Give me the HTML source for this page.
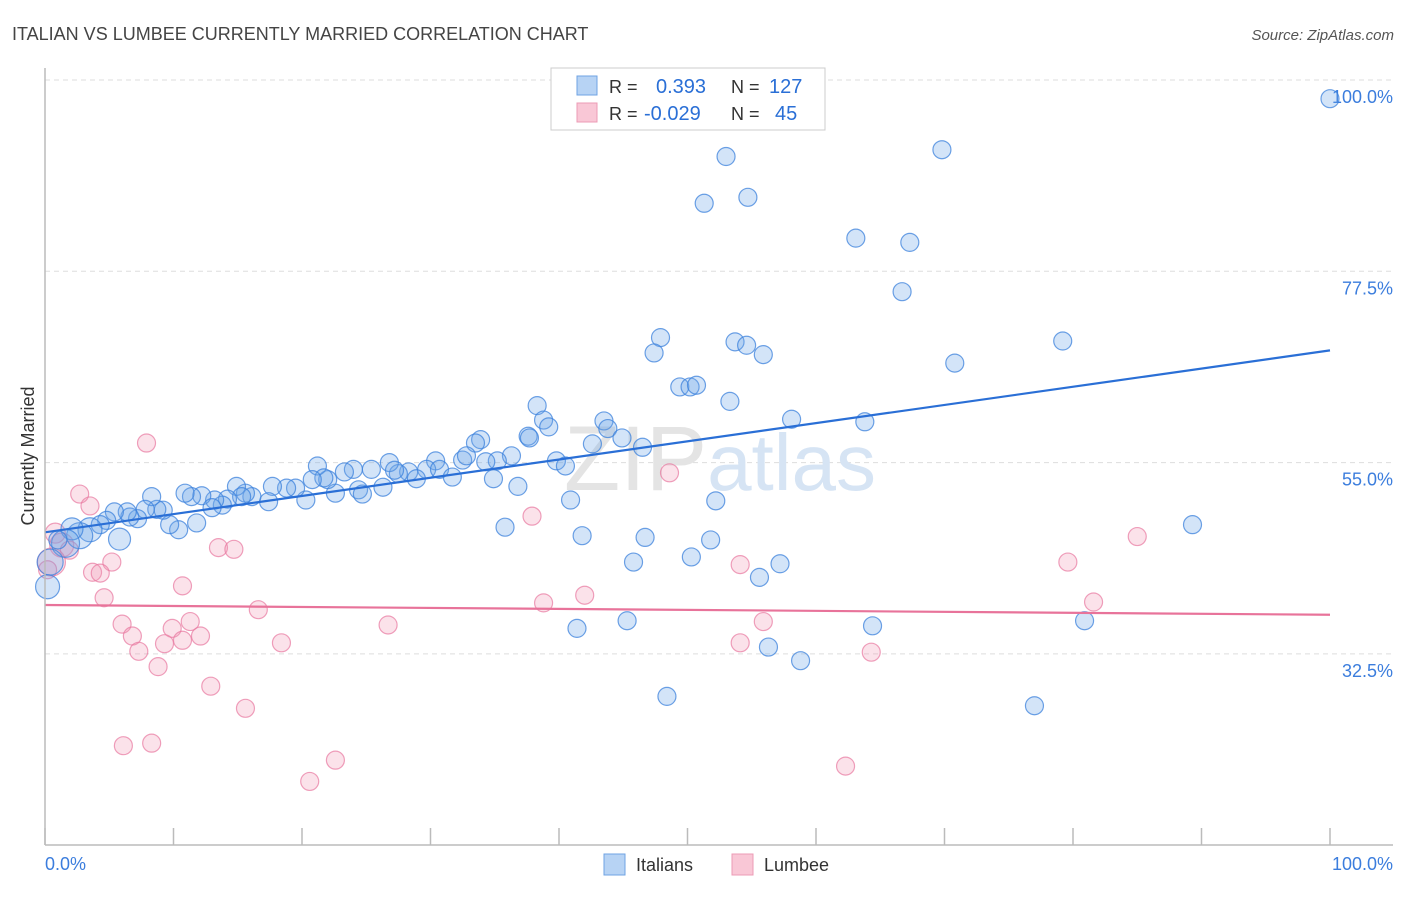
<!DOCTYPE html>
<html><head><meta charset="utf-8"><style>
body{margin:0;background:#fff;font-family:"Liberation Sans",sans-serif;}
svg text{font-family:"Liberation Sans",sans-serif;}
</style></head><body>
<svg id="chart" width="1406" height="892" viewBox="0 0 1406 892" xmlns="http://www.w3.org/2000/svg">
<text x="12" y="40" font-size="18" fill="#444">ITALIAN VS LUMBEE CURRENTLY MARRIED CORRELATION CHART</text>
<text x="1394" y="40" font-size="15" fill="#555" font-style="italic" text-anchor="end">Source: ZipAtlas.com</text>
<g id="grid"></g>
<text x="720" y="490" font-size="92" fill="#dfe6ef" text-anchor="middle" font-family="Liberation Serif"><tspan fill="#e4e4e4">ZIP</tspan><tspan fill="#d6e4f4" font-family="Liberation Sans" font-size="80">atlas</tspan></text>
<g id="pts"></g>
<g id="lines"></g>
<line x1="45" y1="845" x2="1393" y2="845" stroke="#bbb" stroke-width="1.5"/>
<line x1="45" y1="68" x2="45" y2="845" stroke="#bbb" stroke-width="1.5"/>
<g id="xt"></g>
<text transform="translate(34,456) rotate(-90)" font-size="18" fill="#333" text-anchor="middle">Currently Married</text>
<text x="45" y="870" font-size="18" fill="#3b7ddd">0.0%</text>
<text x="1393" y="870" font-size="18" fill="#3b7ddd" text-anchor="end">100.0%</text>
<g>
<rect x="551" y="68" width="274" height="62" fill="#fff" stroke="#ccc"/>
<rect x="577" y="76" width="20" height="19" fill="#b7d3f4" stroke="#6fa3e3"/>
<rect x="577" y="103" width="20" height="19" fill="#f9c7d6" stroke="#ec9bb5"/>
<text x="609" y="93" font-size="18" fill="#333">R =</text>
<text x="656" y="93" font-size="20" fill="#2a6fd6">0.393</text>
<text x="731" y="93" font-size="18" fill="#333">N =</text>
<text x="769" y="93" font-size="20" fill="#2a6fd6">127</text>
<text x="609" y="120" font-size="18" fill="#333">R =</text>
<text x="644" y="120" font-size="20" fill="#2a6fd6">-0.029</text>
<text x="731" y="120" font-size="18" fill="#333">N =</text>
<text x="775" y="120" font-size="20" fill="#2a6fd6">45</text>
</g>
<g>
<rect x="604" y="854" width="21" height="21" fill="#b7d3f4" stroke="#6fa3e3"/>
<text x="636" y="871" font-size="18" fill="#333">Italians</text>
<rect x="732" y="854" width="21" height="21" fill="#f9c7d6" stroke="#ec9bb5"/>
<text x="764" y="871" font-size="18" fill="#333">Lumbee</text>
</g>
</svg>
<script>
const yTicks=[100,77.5,55,32.5];
const yTickLabels=["100.0%","77.5%","55.0%","32.5%"];
const xTicks=[0,10,20,30,40,50,60,70,80,90,100];
const italX=[100,53.0,69.8,51.3,54.7,63.1,67.3,66.7,47.9,47.4,53.7,54.6,55.9,79.2,70.8,49.4,50.2,50.7,53.3,38.3,38.8,39.2,43.5,43.8,42.6,44.9,46.5,37.6,37.7,33.9,33.5,58.1,63.8,39.8,40.5,36.3,35.2,34.3,32.5,32.8,30.4,29.7,30.7,31.7,28.3,28.9,27.5,26.8,27.2,26.3,25.4,24.0,23.3,24.4,24.7,22.6,22.0,21.2,21.7,20.8,20.3,19.5,18.8,17.7,17.4,16.1,15.6,14.9,15.3,14.2,13.8,13.2,12.2,11.4,10.9,13.0,11.8,10.4,9.7,9.2,8.7,8.3,7.8,7.2,6.6,6.4,5.4,4.8,4.3,3.5,2.7,2.1,1.6,1.0,5.8,0.4,0.2,34.9,36.8,40.9,35.8,41.8,46.7,45.8,50.3,51.8,52.2,57.2,55.6,89.3,41.4,45.3,64.4,80.9,56.3,58.8,48.4,77.0];
const italY=[97.8,91.0,91.8,85.5,86.2,81.4,80.9,75.1,69.7,67.9,69.2,68.8,67.7,69.3,66.7,63.9,63.9,64.1,62.2,61.7,60.0,59.2,59.9,59.0,57.2,57.9,56.8,58.1,57.9,57.7,57.3,60.1,59.8,55.2,54.6,55.8,55.2,55.1,55.3,55.8,55.2,54.2,54.2,53.3,53.9,53.1,53.7,55.0,54.1,52.1,54.2,54.2,53.9,51.8,51.3,51.4,53.0,54.6,53.2,53.0,50.6,52.0,52.0,52.2,50.4,51.0,51.4,52.2,51.0,50.7,50.0,50.6,51.1,51.0,51.4,49.7,47.9,47.1,47.7,49.4,49.5,51.0,49.5,48.4,48.6,49.2,49.2,48.2,47.7,47.1,46.4,47.2,45.5,45.9,46.0,43.3,40.4,53.1,52.2,50.6,47.4,46.4,46.2,43.3,43.9,45.9,50.5,43.1,41.5,47.7,35.5,36.4,35.8,36.4,33.3,31.7,27.5,26.4];
const italBig={89:12,90:13,91:11,92:14,94:11,95:13,96:12};
const lumX=[7.9,2.7,3.5,0.8,1.3,1.9,0.5,0.2,5.2,3.7,4.3,4.6,6.0,6.8,7.3,8.8,10.7,9.9,11.3,12.1,10.7,9.3,13.5,14.7,16.6,18.4,12.9,15.6,6.1,8.3,20.6,22.6,26.7,37.9,38.8,42.0,48.6,54.1,55.9,54.1,64.3,62.3,79.6,81.6,85.0];
const lumY=[57.3,51.3,49.9,46.7,45.3,44.7,43.3,42.4,43.3,42.1,42.0,39.1,36.0,34.6,32.8,31.0,40.5,35.5,36.3,34.6,34.1,33.7,45.0,44.8,37.7,33.8,28.7,26.1,21.7,22.0,17.5,20.0,35.9,48.7,38.5,39.4,53.8,43.0,36.3,33.8,32.7,19.3,43.3,38.6,46.3];
const lumBig={3:10,4:12,6:14};
const italTrend=[46.8,68.2];
const lumTrend=[38.25,37.1];
const NS="http://www.w3.org/2000/svg";
const sx=v=>45+v*12.85;
const sy=v=>80+(100-v)*8.502;
function mk(tag,attrs,parent){const e=document.createElementNS(NS,tag);for(const k in attrs)e.setAttribute(k,attrs[k]);parent.appendChild(e);return e;}
const grid=document.getElementById('grid');
yTicks.forEach((t,i)=>{
  const l=mk('line',{x1:45,x2:1393,y1:sy(t),y2:sy(t),stroke:'#ddd','stroke-dasharray':'5,4'},grid);
  
  
  const tx=mk('text',{x:1393,y:sy(t)+23,'font-size':18,fill:'#3b7ddd','text-anchor':'end'},grid);
  tx.textContent=yTickLabels[i];
  
  
});
const xt=document.getElementById('xt');
xTicks.forEach(t=>{
  const l=mk('line',{x1:sx(t),x2:sx(t),y1:828,y2:845,stroke:'#bbb','stroke-width':1.5},xt);
  
  
});
const pts=document.getElementById('pts');
lumX.forEach((x,i)=>{
  const c=mk('circle',{cx:sx(x),cy:sy(lumY[i]),r:lumBig[i]||9,fill:'rgba(242,150,180,0.28)',stroke:'rgba(232,120,160,0.7)','stroke-width':1.2},pts);
  
  
});
italX.forEach((x,i)=>{
  const c=mk('circle',{cx:sx(x),cy:sy(italY[i]),r:italBig[i]||9,fill:'rgba(110,165,232,0.3)',stroke:'rgba(60,130,220,0.75)','stroke-width':1.2},pts);
  
  
});
const lines=document.getElementById('lines');
const bl=mk('line',{x1:sx(0),y1:sy(italTrend[0]),x2:sx(100),y2:sy(italTrend[1]),stroke:'#2a6fd6','stroke-width':2.2},lines);


const pl=mk('line',{x1:sx(0),y1:sy(lumTrend[0]),x2:sx(100),y2:sy(lumTrend[1]),stroke:'#e8739a','stroke-width':2.2},lines);


</script>
</body></html>
